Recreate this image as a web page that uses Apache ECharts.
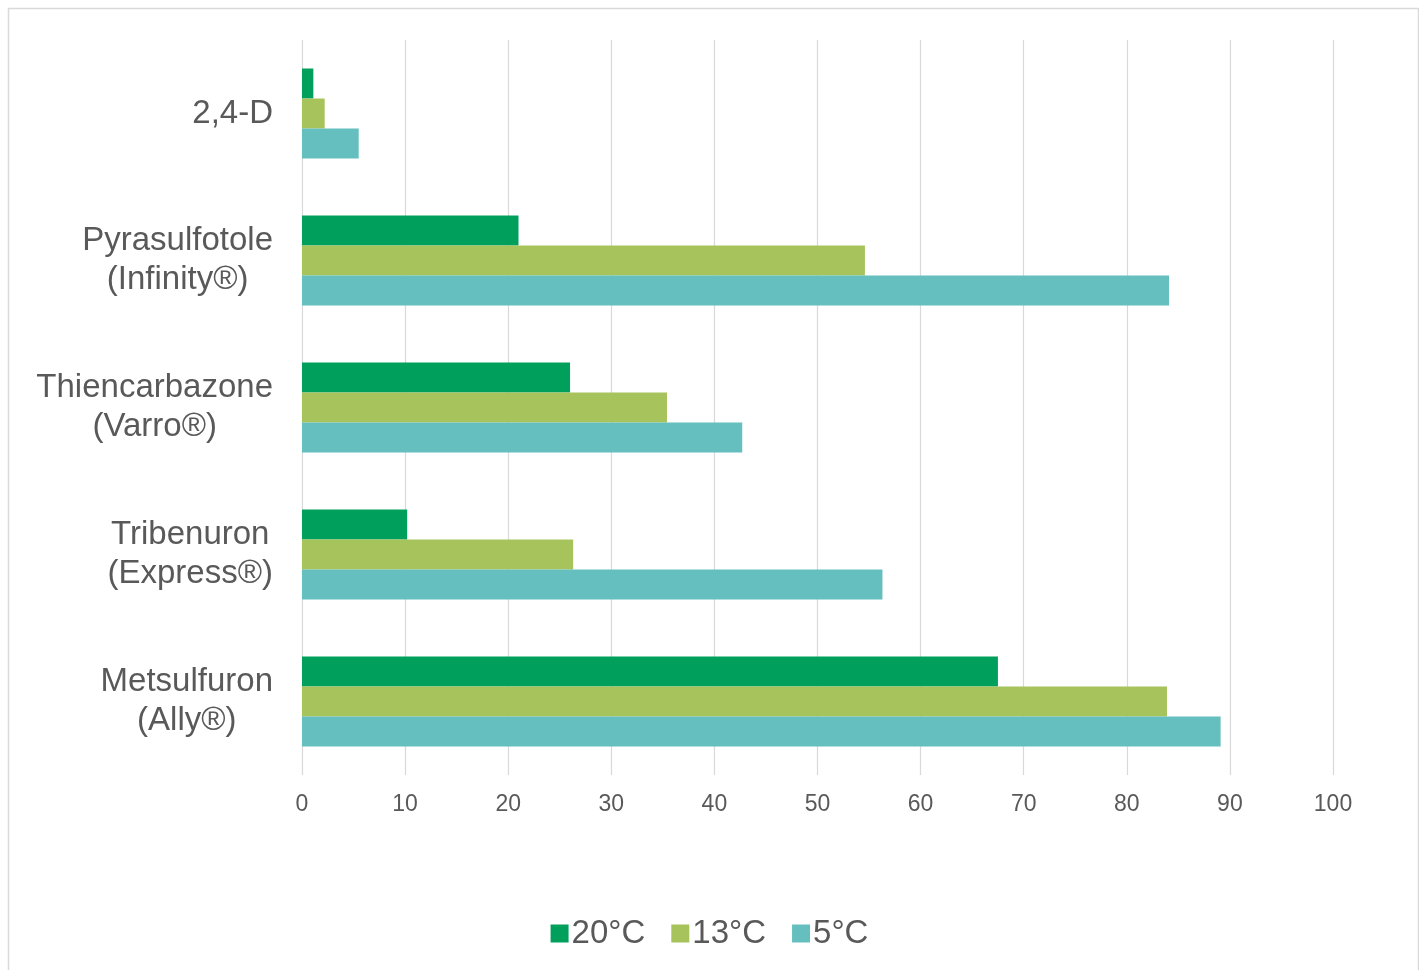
<!DOCTYPE html>
<html>
<head>
<meta charset="utf-8">
<script src="https://cdn.jsdelivr.net/npm/echarts@6/dist/echarts.min.js"></script>
<style>
html,body{margin:0;padding:0;background:#fff;}
#chart{width:1419px;height:970px;}
</style>
</head>
<body>
<div id="chart"></div>
<script>
const categories = ['2,4-D', 'Pyrasulfotole\n(Infinity®)', 'Thiencarbazone\n(Varro®)', 'Tribenuron\n(Express®)', 'Metsulfuron\n(Ally®)'];
const seriesNames = ['20°C', '13°C', '5°C'];
const values20 = [1.1, 21.0, 26.0, 10.2, 67.5];
const values13 = [2.2, 54.6, 35.4, 26.3, 83.9];
const values5 = [5.5, 84.1, 42.7, 56.3, 89.1];
const xTicks = { min: 0, max: 100, interval: 10 };
const colors = ['#009F5B', '#A6C35C', '#65BFBF'];

const chart = echarts.init(document.getElementById('chart'));
const data = [values20, values13, values5];
chart.setOption({
  animation: false,
  color: colors,
  graphic: [{
    type: 'rect', left: 6, top: 6,
    shape: { width: 1410, height: 980 },
    style: { fill: 'none', stroke: '#d9d9d9', lineWidth: 1.5 }
  }],
  grid: { left: 302, right: 86, top: 40, bottom: 195, containLabel: false },
  legend: {
    bottom: 15, left: 'center',
    itemWidth: 18, itemHeight: 18, itemGap: 26,
    icon: 'rect',
    textStyle: { fontSize: 33, color: '#595959', fontFamily: 'Liberation Sans', padding: [0, 0, 0, -2] },
    data: seriesNames
  },
  xAxis: {
    type: 'value', min: xTicks.min, max: xTicks.max, interval: xTicks.interval,
    axisLine: { show: false }, axisTick: { show: false },
    splitLine: { lineStyle: { color: '#d9d9d9', width: 1.2 } },
    axisLabel: { fontSize: 23, color: '#595959', fontFamily: 'Liberation Sans', margin: 18 }
  },
  yAxis: {
    type: 'category', data: categories, inverse: true,
    axisLine: { show: false }, axisTick: { show: false },
    axisLabel: {
      margin: 29, align: 'right', fontFamily: 'Liberation Sans',
      formatter: v => v.split('\n').map(s => '{c|' + s + '}').join('\n'),
      rich: { c: { align: 'center', fontSize: 33, lineHeight: 39, color: '#595959', fontFamily: 'Liberation Sans' } }
    }
  },
  series: seriesNames.map((n, i) => ({
    name: n, type: 'bar', data: data[i], barWidth: 30, barGap: '0%',
    itemStyle: { color: colors[i] }
  }))
});
</script>
</body>
</html>
